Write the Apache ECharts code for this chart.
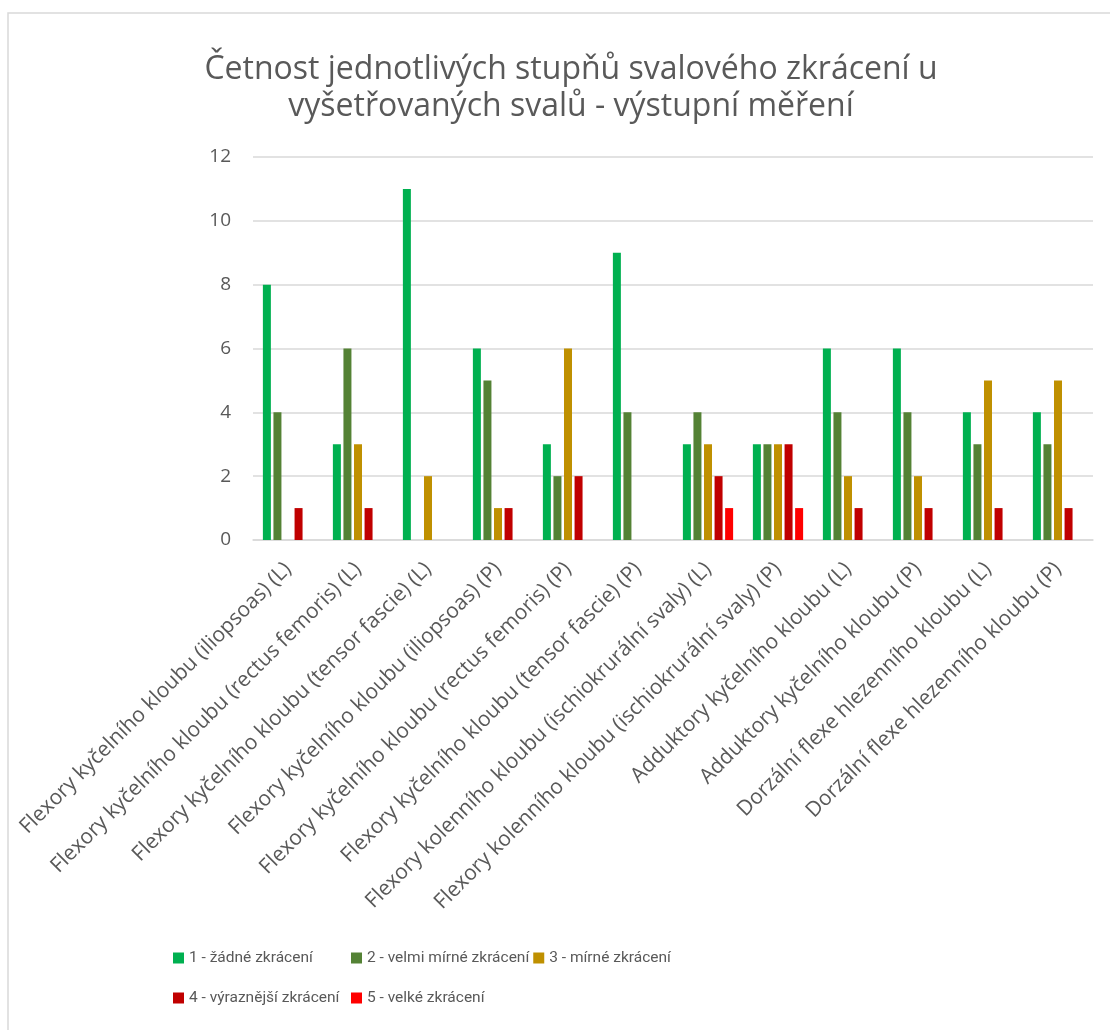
<!DOCTYPE html>
<html>
<head>
<meta charset="utf-8">
<script src="https://cdn.jsdelivr.net/npm/echarts@6/dist/echarts.min.js"></script>
<style>
  html, body { margin: 0; padding: 0; background: #fff; }
  #chart { width: 1110px; height: 1030px; }
</style>
</head>
<body>
<div id="chart"></div>
<script>
// kategorie (svaly)
const categories = [
  'Flexory kyčelního kloubu (iliopsoas) (L)',
  'Flexory kyčelního kloubu (rectus femoris) (L)',
  'Flexory kyčelního kloubu (tensor fascie) (L)',
  'Flexory kyčelního kloubu (iliopsoas) (P)',
  'Flexory kyčelního kloubu (rectus femoris) (P)',
  'Flexory kyčelního kloubu (tensor fascie) (P)',
  'Flexory kolenního kloubu (ischiokrurální svaly) (L)',
  'Flexory kolenního kloubu (ischiokrurální svaly) (P)',
  'Adduktory kyčelního kloubu (L)',
  'Adduktory kyčelního kloubu (P)',
  'Dorzální flexe hlezenního kloubu (L)',
  'Dorzální flexe hlezenního kloubu (P)'
];
const seriesNames = [
  '1 - žádné zkrácení',
  '2 - velmi mírné zkrácení',
  '3 - mírné zkrácení',
  '4 - výraznější zkrácení',
  '5 - velké zkrácení'
];
// četnosti (0 = bez sloupce)
const stupen1 = [8, 3, 11, 6, 3, 9, 3, 3, 6, 6, 4, 4];
const stupen2 = [4, 6, 0, 5, 2, 4, 4, 3, 4, 4, 3, 3];
const stupen3 = [0, 3, 2, 1, 6, 0, 3, 3, 2, 2, 5, 5];
const stupen4 = [1, 1, 0, 1, 2, 0, 2, 3, 1, 1, 1, 1];
const stupen5 = [0, 0, 0, 0, 0, 0, 1, 1, 0, 0, 0, 0];
const yTicks = [0, 2, 4, 6, 8, 10, 12];

const colors = ['#00B050', '#548235', '#BF9000', '#C00000', '#FF0000'];
const allData = [stupen1, stupen2, stupen3, stupen4, stupen5];
const textColor = '#595959';
const font = 'Open Sans';

const chart = echarts.init(document.getElementById('chart'));
const option = {
  animation: false,
  title: {
    text: 'Četnost jednotlivých stupňů svalového zkrácení u\nvyšetřovaných svalů - výstupní měření',
    left: 566,
    top: 46,
    textAlign: 'center',
    textStyle: {
      fontFamily: font,
      fontWeight: 'normal',
      fontSize: 32,
      lineHeight: 37,
      color: textColor
    }
  },
  graphic: [{
    type: 'rect',
    shape: { x: 8, y: 13, width: 1200, height: 1100 },
    style: { fill: 'none', stroke: '#d9d9d9', lineWidth: 1.5 },
    silent: true,
    z: -1
  }],
  legend: {
    left: 168,
    top: 935,
    width: 560,
    itemWidth: 11,
    itemHeight: 11,
    itemGap: 4,
    icon: 'rect',
    textStyle: {
      fontFamily: 'Roboto',
      fontSize: 15.5,
      lineHeight: 36,
      color: textColor,
      width: 158,
      overflow: 'none'
    },
    data: seriesNames
  },
  grid: {
    left: 253,
    right: 17,
    top: 157,
    bottom: 490
  },
  xAxis: {
    type: 'category',
    data: categories,
    axisTick: { show: false },
    axisLine: { lineStyle: { color: '#d9d9d9', width: 1.5 } },
    axisLabel: {
      interval: 0,
      rotate: 45,
      margin: 26,
      fontFamily: font,
      fontSize: 21,
      color: textColor
    }
  },
  yAxis: {
    type: 'value',
    min: yTicks[0],
    max: yTicks[yTicks.length - 1],
    interval: 2,
    axisLine: { show: false },
    axisTick: { show: false },
    splitLine: { lineStyle: { color: '#d9d9d9', width: 1.5 } },
    axisLabel: {
      margin: 22,
      fontFamily: font,
      fontSize: 19,
      color: textColor
    }
  },
  series: allData.map((vals, i) => ({
    name: seriesNames[i],
    type: 'bar',
    data: vals,
    barWidth: 8,
    barGap: '32%',
    itemStyle: { color: colors[i] }
  }))
};
chart.setOption(option);
</script>
</body>
</html>
